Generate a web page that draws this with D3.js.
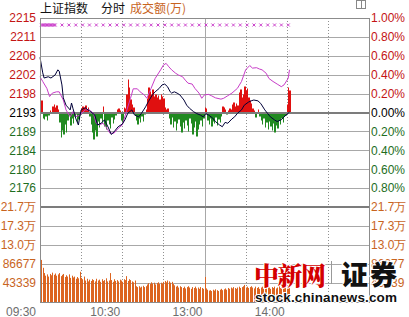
<!DOCTYPE html>
<html>
<head>
<meta charset="utf-8">
<script src="https://cdn.jsdelivr.net/npm/d3@7"></script>
<style>
  body { margin: 0; background: #fff; }
  svg { display: block; }
</style>
</head>
<body>
<div id="chart"></div>
<script>
const W = 409, H = 317

const PRE_CLOSE = 2193.2

// left / right tick labels of the price panel (percent from previous close)
const pctTicks = [1.0, 0.8, 0.6, 0.4, 0.2, 0, -0.2, -0.4, -0.6, -0.8]
const priceLabels = ["2215", "2211", "2206", "2202", "2198", "2193", "2189", "2184", "2180", "2176"]
const pctLabels = ["1.00%", "0.80%", "0.60%", "0.40%", "0.20%", "0.00%", "0.20%", "0.40%", "0.60%", "0.80%"]

// volume panel ticks
const volTicks = [216694, 173355, 130016, 86677, 43339]
const volLabels = ["21.7万", "17.3万", "13.0万", "86677", "43339"]

// time axis (minutes of trading from 09:30, lunch break removed)
const timeTicks = [0, 60, 120, 180]
const timeLabels = ["09:30", "10:30", "13:00", "14:00"]
const gridMinutes = [30, 60, 90, 150, 180, 210]

// 上证指数 line
const indexMin = [0, 2, 3, 6, 8, 11, 13, 14, 16, 17, 19, 22, 23, 24, 26, 28, 29, 30, 33, 35, 37, 40, 42, 45, 47, 50, 52, 54, 57, 60,
  62, 64, 67, 69, 72, 74, 77, 79, 82, 84, 87, 89, 91, 93, 95, 96, 98, 100, 102, 105, 107, 109, 112, 114, 117, 119, 121, 123, 126, 128,
  131, 133, 135, 137, 140, 142, 144, 147, 149, 152, 154, 156, 159, 161, 164, 166, 168, 171, 173, 176, 178, 181, 182]
const indexPrice = [2206.0, 2202.4, 2201.2, 2201.5, 2201.2, 2201.9, 2203.1, 2202.8, 2199.6, 2196.6, 2194.9, 2193.8, 2195.4, 2194.2, 2191.9, 2190.3, 2192.2, 2193.8, 2194.3, 2193.8,
  2193.4, 2192.6, 2190.3, 2190.8, 2191.5, 2189.6, 2188.1, 2188.7, 2189.9, 2190.5,
  2191.5, 2193.0, 2193.8, 2192.6, 2192.2, 2193.0, 2194.5, 2195.7, 2197.3, 2198.0, 2198.8, 2199.6, 2199.8, 2199.2, 2198.0, 2197.7, 2198.0, 2197.7, 2197.3, 2196.1,
  2194.9, 2194.2, 2193.4, 2193.0, 2192.6, 2192.2, 2192.9, 2192.6, 2191.9, 2191.1,
  2190.3, 2189.9, 2190.9, 2190.7, 2191.7, 2192.2, 2193.0, 2193.8, 2194.9, 2195.6, 2195.9, 2196.1, 2195.9, 2195.3, 2193.8, 2193.0, 2192.2, 2191.5, 2191.1, 2191.5,
  2192.2, 2193.0, 2193.3]

// second (magenta) line
const avgMin = [0, 2, 5, 7, 9, 12, 14, 17, 19, 22, 24, 26, 29, 33, 36, 39, 41, 43, 46, 48, 51, 54, 57, 60,
  63, 66, 68, 71, 73, 76, 78, 81, 84, 88, 90, 92, 94, 96, 99, 101, 104, 106, 108, 111, 113, 116, 118, 120,
  123, 125, 128, 132, 134, 137, 140, 144, 147, 150, 153, 155, 158, 160, 162, 165, 167, 170, 173, 176, 178, 181, 182]
const avgPrice = [2201.5, 2200.4, 2198.8, 2196.9, 2197.7, 2198.0, 2198.0, 2196.1, 2193.8, 2192.2, 2193.4, 2192.2, 2192.6, 2193.8, 2193.8, 2193.0,
  2190.7, 2190.3, 2190.7, 2189.9, 2188.4, 2188.4, 2189.5, 2190.3,
  2193.4, 2196.5, 2198.7, 2198.7, 2198.0, 2197.3, 2196.5, 2198.8, 2201.1, 2203.1, 2204.2, 2204.6, 2203.8, 2203.1, 2202.3, 2201.9,
  2201.5, 2200.7, 2200.0, 2199.8, 2198.8, 2197.7, 2196.5, 2197.3,
  2197.4, 2197.1, 2196.6, 2196.3, 2196.5, 2197.1, 2197.7, 2198.8, 2200.4, 2203.1, 2204.1, 2203.5, 2203.6, 2203.3, 2203.1, 2202.3,
  2201.1, 2200.4, 2199.8, 2199.2, 2199.6, 2201.1, 2203.1]

// red / green strength bars, one per minute
const strength = [15, 12, -6, -7, -4, -8, -3, 2, 0, 6, 8, 5, 7, 3, -10, -25, -18, -22, -12, -20,
  -8, -3, -13, -6, -11, -4, -2, -10, -7, -3, 4, 6, 5, 7, 3, 5, -4, -12, -20, -27,
  -18, -24, -9, -15, -6, -10, 6, -14, -17, -8, -12, -16, -5, -11, -7, -3, 3, 4, 2, -8,
  -10, 5, 4, 18, 33, 25, 13, 8, 5, -3, -8, -12, -6, -10, -4, -9, -2, 3, 14, 25,
  21, 18, 23, 16, 18, 15, 17, 13, 18, 16, 14, 5, 3, 4, -6, -12, -5, -15, -9, -18,
  -11, -7, -14, -20, -10, -16, -8, -13, -19, -6, -11, -22, -15, -9, -24, -17, -12, -8, -14, -6,
  5, 4, -8, -12, -6, -14, -9, -11, -5, -13, -7, -10, -4, 6, 5, 3, -2, 2, 4, 3,
  8, 10, 6, 9, 7, 20, 23, 15, 18, 26, 22, 24, 15, 12, 9, 4, 2, -5, 0, 3,
  -4, -8, -12, -6, -15, -10, -17, -9, -14, -18, -11, -20, -13, -16, -8, -12, -6, -10, -4, -3,
  8, 25, 22]

// 成交额 per minute
const volume = [198000, 96000, 78000, 66000, 60000, 63000, 58000, 64000, 61000, 67000,
  62000, 65000, 60000, 63000, 66000, 59000, 62000, 64000, 57000, 61000,
  58000, 63000, 55000, 60000, 56000, 58000, 53000, 57000, 54000, 69000,
  55000, 52000, 58000, 49000, 53000, 47000, 51000, 48000, 52000, 50000,
  47000, 53000, 49000, 51000, 46000, 52000, 48000, 50000, 54000, 47000,
  49000, 66000, 50000, 46000, 52000, 48000, 50000, 47000, 51000, 49000,
  46000, 52000, 50000, 59000, 48000, 52000, 50000, 47000, 45000, 49000,
  36000, 34000, 36000, 33000, 35000, 37000, 34000, 36000, 40000, 43000,
  41000, 45000, 42000, 44000, 40000, 43000, 45000, 41000, 44000, 42000,
  46000, 48000, 45000, 49000, 47000, 44000, 46000, 41000, 38000, 35000,
  37000, 33000, 36000, 34000, 32000, 35000, 31000, 34000, 36000, 33000,
  30000, 34000, 32000, 35000, 31000, 33000, 30000, 34000, 32000, 30000,
  57000, 31000, 28000, 26000, 27000, 25000, 28000, 26000, 29000, 27000,
  25000, 28000, 30000, 27000, 29000, 31000, 28000, 32000, 30000, 33000,
  31000, 34000, 32000, 30000, 33000, 35000, 32000, 34000, 36000, 39000,
  33000, 35000, 32000, 34000, 36000, 33000, 31000, 35000, 32000, 34000,
  30000, 33000, 35000, 31000, 34000, 32000, 36000, 33000, 30000, 34000,
  32000, 35000, 31000, 33000, 36000, 32000, 34000, 31000, 35000, 33000,
  37000, 34000, 36000]

// minutes where the small magenta crosses sit along the top
const crossMin = [0, 1, 2, 3, 4, 5, 6, 7, 8, 9, 10, 15, 20, 25, 30, 35, 40, 45, 50, 55, 60, 65, 70, 75, 80, 85, 90,
  95, 100, 105, 110, 115, 120, 125, 130, 135, 140, 145, 150, 155, 160, 165, 170, 175, 180]

const PLOT = { left: 40, right: 369, top: 18, mid: 207, bottom: 302 }

const RED = "#c41414", GREEN = "#1e6e1e", ORANGE = "#c8641e", GRID = "#a8a8a8", FRAME = "#8c8c8c"
const FONT = "'Liberation Sans', Arial, sans-serif"
const CJK = "'Noto Sans CJK SC', sans-serif"

const svg = d3.select("#chart").append("svg")
  .attr("width", W)
  .attr("height", H)
  .style("background", "#fff")

const xScale = d3.scaleLinear().domain([0, 240]).range([PLOT.left, PLOT.right])
const yPrice = d3.scaleLinear()
  .domain([PRE_CLOSE * 0.99, PRE_CLOSE * 1.01])
  .range([PLOT.mid, PLOT.top])
const yVol = d3.scaleLinear().domain([0, 216694]).range([PLOT.bottom, PLOT.mid])
const zeroY = yPrice(PRE_CLOSE)
const yStrength = d3.scaleLinear().domain([-50, 50]).range([zeroY + 50, zeroY - 50])

const pctPrice = p => PRE_CLOSE * (1 + p / 100)
const colX = i => Math.round(xScale(i))

// horizontal grid
svg.append("g").selectAll("line")
  .data(pctTicks.filter(p => p !== 0 && p !== 1))
  .join("line")
  .attr("x1", PLOT.left).attr("x2", PLOT.right)
  .attr("y1", d => Math.round(yPrice(pctPrice(d))) + 0.5)
  .attr("y2", d => Math.round(yPrice(pctPrice(d))) + 0.5)
  .attr("stroke", GRID)

svg.append("g").selectAll("line")
  .data(volTicks.slice(1))
  .join("line")
  .attr("x1", PLOT.left).attr("x2", PLOT.right)
  .attr("y1", d => Math.round(yVol(d)) + 0.5)
  .attr("y2", d => Math.round(yVol(d)) + 0.5)
  .attr("stroke", GRID)

// vertical dotted grid
svg.append("g").selectAll("line")
  .data(gridMinutes)
  .join("line")
  .attr("x1", d => Math.round(xScale(d)) + 0.5)
  .attr("x2", d => Math.round(xScale(d)) + 0.5)
  .attr("y1", PLOT.top).attr("y2", PLOT.bottom)
  .attr("stroke", "#909090")
  .attr("stroke-dasharray", "1,2")

// lunch break separator
svg.append("line")
  .attr("x1", Math.round(xScale(120)) + 0.5).attr("x2", Math.round(xScale(120)) + 0.5)
  .attr("y1", PLOT.top).attr("y2", PLOT.bottom)
  .attr("stroke", GRID)

// strength bars, contiguous columns
svg.append("g").selectAll("rect")
  .data(strength)
  .join("rect")
  .attr("x", (d, i) => colX(i))
  .attr("width", (d, i) => Math.max(1, colX(i + 1) - colX(i)))
  .attr("y", d => d > 0 ? yStrength(d) : zeroY)
  .attr("height", d => Math.abs(yStrength(d) - zeroY))
  .attr("fill", d => d > 0 ? "#e01010" : "#208a20")

// volume bars
svg.append("g").selectAll("rect")
  .data(volume)
  .join("rect")
  .attr("x", (d, i) => colX(i))
  .attr("width", 1)
  .attr("y", d => yVol(d))
  .attr("height", d => PLOT.bottom - yVol(d))
  .attr("fill", "#dc6420")

// zero line and panel divider
svg.append("line")
  .attr("x1", PLOT.left).attr("x2", PLOT.right)
  .attr("y1", Math.round(zeroY)).attr("y2", Math.round(zeroY))
  .attr("stroke", "#7c7c7c").attr("stroke-width", 2)

svg.append("line")
  .attr("x1", PLOT.left).attr("x2", PLOT.right)
  .attr("y1", PLOT.mid).attr("y2", PLOT.mid)
  .attr("stroke", "#7c7c7c").attr("stroke-width", 2)

// lines
const avgLine = d3.line()
  .x((d, i) => xScale(avgMin[i]))
  .y(d => yPrice(d))
const indexLine = d3.line()
  .x((d, i) => xScale(indexMin[i]))
  .y(d => yPrice(d))

svg.append("path")
  .attr("d", avgLine(avgPrice))
  .attr("fill", "none")
  .attr("stroke", "#c83cc8")
  .attr("stroke-width", 1)

svg.append("path")
  .attr("d", indexLine(indexPrice))
  .attr("fill", "none")
  .attr("stroke", "#000038")
  .attr("stroke-width", 1)

// crosses along the top
const crossY = PLOT.top + 7
const crosses = svg.append("g").attr("stroke", "#cc44cc").attr("stroke-width", 1)
crossMin.forEach(m => {
  const cx = xScale(m) + 1.5
  crosses.append("line").attr("x1", cx - 1.5).attr("x2", cx + 1.5).attr("y1", crossY - 1.5).attr("y2", crossY + 1.5)
  crosses.append("line").attr("x1", cx - 1.5).attr("x2", cx + 1.5).attr("y1", crossY + 1.5).attr("y2", crossY - 1.5)
})

// frame
svg.append("rect")
  .attr("x", PLOT.left + 0.5).attr("y", PLOT.top + 0.5)
  .attr("width", PLOT.right - PLOT.left).attr("height", PLOT.bottom - PLOT.top)
  .attr("fill", "none")
  .attr("stroke", FRAME)

// price labels
const labelColor = p => p > 0 ? RED : (p < 0 ? GREEN : "#000")

svg.append("g").selectAll("text")
  .data(pctTicks)
  .join("text")
  .attr("x", PLOT.left - 4)
  .attr("y", d => yPrice(pctPrice(d)))
  .attr("dy", "0.36em")
  .attr("text-anchor", "end")
  .attr("font-family", FONT).attr("font-size", 12)
  .attr("fill", labelColor)
  .text((d, i) => priceLabels[i])

svg.append("g").selectAll("text")
  .data(pctTicks)
  .join("text")
  .attr("x", PLOT.right + 2)
  .attr("y", d => yPrice(pctPrice(d)))
  .attr("dy", "0.36em")
  .attr("font-family", FONT).attr("font-size", 12)
  .attr("fill", labelColor)
  .text((d, i) => pctLabels[i])

// volume labels
svg.append("g").selectAll("text")
  .data(volTicks)
  .join("text")
  .attr("x", PLOT.left - 4)
  .attr("y", d => yVol(d))
  .attr("dy", "0.36em")
  .attr("text-anchor", "end")
  .attr("font-family", FONT).attr("font-size", 12)
  .attr("fill", ORANGE)
  .text((d, i) => volLabels[i])

svg.append("g").selectAll("text")
  .data(volTicks)
  .join("text")
  .attr("x", PLOT.right + 2)
  .attr("y", d => yVol(d))
  .attr("dy", "0.36em")
  .attr("font-family", FONT).attr("font-size", 12)
  .attr("fill", ORANGE)
  .text((d, i) => volLabels[i])

// time labels
svg.append("g").selectAll("text")
  .data(timeTicks)
  .join("text")
  .attr("x", d => d === 0 ? PLOT.left - 4 : xScale(d) - 2)
  .attr("y", 315.5)
  .attr("text-anchor", "end")
  .attr("font-family", FONT).attr("font-size", 12)
  .attr("fill", "#6e6e6e")
  .text((d, i) => timeLabels[i])

// title
svg.append("text").attr("x", 40).attr("y", 12.5)
  .attr("font-family", CJK).attr("font-size", 12).attr("fill", "#111")
  .text("上证指数")
svg.append("text").attr("x", 101).attr("y", 12.5)
  .attr("font-family", CJK).attr("font-size", 12).attr("fill", "#111")
  .text("分时")
svg.append("text").attr("x", 130).attr("y", 12.5)
  .attr("font-family", CJK).attr("font-size", 12).attr("fill", ORANGE)
  .text("成交额(万)")

// small window icon top right
svg.append("rect").attr("x", 356.5).attr("y", 0.5).attr("width", 9).attr("height", 8)
  .attr("fill", "#fff").attr("stroke", "#888")
svg.append("line").attr("x1", 361.5).attr("x2", 361.5).attr("y1", 0.5).attr("y2", 8.5)
  .attr("stroke", "#888")

// watermark
const wm = svg.append("g")
  .attr("stroke", "#fff").attr("stroke-width", 2).attr("paint-order", "stroke")
wm.append("text").attr("x", 254).attr("y", 285)
  .attr("font-family", "'Noto Serif CJK SC', 'Noto Sans CJK SC', serif")
  .attr("font-weight", 900).attr("font-size", 25)
  .attr("textLength", 72)
  .attr("fill", "#d40000")
  .text("中新网")
wm.append("line").attr("x1", 331.5).attr("x2", 331.5).attr("y1", 261).attr("y2", 284)
  .attr("stroke", "#999").attr("stroke-width", 1)
wm.append("text").attr("x", 341).attr("y", 285)
  .attr("font-family", CJK)
  .attr("font-weight", 900).attr("font-size", 27)
  .attr("textLength", 56)
  .attr("fill", "#111")
  .text("证券")
wm.append("text").attr("x", 255).attr("y", 302)
  .attr("font-family", FONT)
  .attr("font-weight", "bold").attr("font-size", 13.5)
  .attr("textLength", 142)
  .attr("fill", "#111")
  .text("stock.chinanews.com")
</script>
</body>
</html>
